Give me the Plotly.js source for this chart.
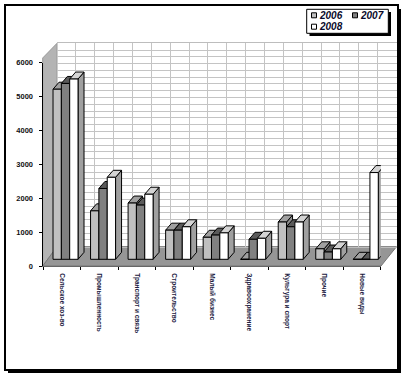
<!DOCTYPE html>
<html><head><meta charset="utf-8">
<script src="https://cdn.plot.ly/plotly-3.0.1.min.js"></script>
<style>html,body{margin:0;padding:0;background:#fff;}#chart{width:407px;height:378px;}</style>
</head><body><div id="chart"></div>
<script>
// ---- data ----
const categories = ['Сельское хоз-во','Промышленность','Транспорт и связь','Строительство','Малый бизнес','Здравоохранение','Культура и спорт','Прочие','Новые виды'];
const seriesNames = ['2006','2007','2008'];
const values2006 = [5020, 1430, 1660, 860, 650, 0, 1100, 310, 0];
const values2007 = [5190, 2090, 1600, 860, 715, 590, 960, 215, 0];
const values2008 = [5320, 2420, 1920, 960, 780, 620, 1100, 310, 2560];
const valueTicks = [0, 1000, 2000, 3000, 4000, 5000, 6000];

// ---- geometry / style ----
const W = 407, H = 378, M = {l: 43, r: 10, t: 40, b: 112};
const PW = W - M.l - M.r, PH = H - M.t - M.b;
const fx = p => (p - M.l) / PW;
const fy = p => (H - M.b - p) / PH;
const AX0 = 43, AX1 = 380.8, Y0 = 266, YTOP = 62.7;
const pxPerUnit = (Y0 - YTOP) / 6000;
const pxPerCat = (AX1 - AX0) / 9;
const BASE = 6.7 / pxPerUnit;
const DX = 6 / pxPerCat, DY = 7 / pxPerUnit;
const BW = 8.33 / pxPerCat;
const SHIFT = 0.1;
const faceColors = [
  {front: '#c0c0c0', top: '#a0a0a0', side: '#8c8c8c'},
  {front: '#808080', top: '#5a5a5a', side: '#505050'},
  {front: '#ffffff', top: '#d4d4d4', side: '#a0a0a0'}
];
const allValues = [values2006, values2007, values2008];

function add(o, xs, ys) { o.x.push(...xs, null); o.y.push(...ys, null); }
// back wall subplot holder (no marks)
const traces = [{type: 'scatter', mode: 'lines', x: [], y: [], xaxis: 'x', yaxis: 'y', showlegend: false, hoverinfo: 'skip'}];
allValues.forEach((vals, s) => {
  const fr = {x: [], y: []}, tp = {x: [], y: []}, sd = {x: [], y: []};
  vals.forEach((v, i) => {
    const x0 = i + SHIFT + (s - 1.5) * BW, x1 = x0 + BW, b = BASE, t = BASE + v;
    add(sd, [x1, x1 + DX, x1 + DX, x1, x1], [b, b + DY, t + DY, t, b]);
    add(tp, [x0, x1, x1 + DX, x0 + DX, x0], [t, t, t + DY, t + DY, t]);
    add(fr, [x0, x1, x1, x0, x0], [b, b, t, t, b]);
  });
  [['side', sd], ['top', tp], ['front', fr]].forEach(([k, o]) => {
    traces.push({type: 'scatter', mode: 'lines', x: o.x, y: o.y, xaxis: 'x2', yaxis: 'y2',
      fill: 'toself', fillcolor: faceColors[s][k], line: {color: '#000', width: 1},
      name: seriesNames[s], showlegend: false, hoverinfo: 'skip'});
  });
});

const shapes = [
  // outer frame shadow + frame
  {type: 'rect', xref: 'paper', yref: 'paper', x0: fx(8), x1: fx(401), y0: fy(373), y1: fy(9), fillcolor: '#000', line: {width: 0}, layer: 'below'},
  {type: 'rect', xref: 'paper', yref: 'paper', x0: fx(5), x1: fx(398), y0: fy(370), y1: fy(5), fillcolor: '#fff', line: {color: '#000', width: 2}, layer: 'below'},
  // left wall
  {type: 'path', xref: 'paper', yref: 'paper', layer: 'below',
    path: `M${fx(42.7)},${fy(266)} L${fx(42.7)},${fy(58)} L${fx(57)},${fy(43.3)} L${fx(57)},${fy(246.7)} Z`,
    fillcolor: '#b4b4b4', line: {color: '#9a9a9a', width: 1}},
  // floor
  {type: 'path', xref: 'paper', yref: 'paper', layer: 'below',
    path: `M${fx(42.7)},${fy(266)} L${fx(381)},${fy(266)} L${fx(396.5)},${fy(246.7)} L${fx(57)},${fy(246.7)} Z`,
    fillcolor: '#969696', line: {color: '#777', width: 1}},
  // legend shadow + box
  {type: 'rect', xref: 'paper', yref: 'paper', x0: fx(309.5), x1: fx(391), y0: fy(36), y1: fy(12), fillcolor: '#000', line: {width: 0}},
  {type: 'rect', xref: 'paper', yref: 'paper', x0: fx(306.7), x1: fx(388.3), y0: fy(33.3), y1: fy(9.3), fillcolor: '#fff', line: {color: '#000', width: 1}}
];
const legendPos = [[311.5, 15.3], [352.5, 15.3], [311.5, 26.7]];
const annotations = [];
seriesNames.forEach((n, s) => {
  const [lx, ly] = legendPos[s];
  shapes.push({type: 'rect', xref: 'paper', yref: 'paper', x0: fx(lx), x1: fx(lx + 5), y0: fy(ly + 2.5), y1: fy(ly - 2.5),
    fillcolor: faceColors[s].front, line: {color: '#000', width: 1}});
  annotations.push({xref: 'paper', yref: 'paper', x: fx(lx + 6.5), y: fy(ly), xanchor: 'left', yanchor: 'middle',
    text: n, showarrow: false, borderpad: 0,
    font: {family: 'Liberation Sans, Arial', size: 10, weight: 'bold', style: 'italic', color: '#0a0a2a'}});
});

const layout = {
  width: W, height: H, margin: M, showlegend: false,
  paper_bgcolor: '#fff', plot_bgcolor: 'rgba(0,0,0,0)',
  // back wall grid
  xaxis: {domain: [fx(57), fx(396.5)], range: [0, 18], dtick: 1, showgrid: true, gridcolor: '#c4c4c4', gridwidth: 1,
    showticklabels: false, ticks: '', zeroline: false, showline: true, mirror: true, linecolor: '#bdbdbd', anchor: 'y', fixedrange: true},
  yaxis: {domain: [fy(246.7), fy(43.3)], range: [0, 6000], dtick: 200, showgrid: true, gridcolor: '#c4c4c4', gridwidth: 1,
    showticklabels: false, ticks: '', zeroline: false, showline: false, anchor: 'x', fixedrange: true},
  // front axes with bars
  xaxis2: {domain: [0, fx(AX1)], range: [-0.5, 8.5], anchor: 'y2', tickmode: 'array',
    tickvals: categories.map((c, i) => i), ticktext: categories, ticks: '', tickangle: 90, ticklabelstandoff: 5,
    tickfont: {family: 'Liberation Sans, Arial', size: 6.5, weight: 'bold', color: '#202040'},
    minor: {tickmode: 'linear', tick0: -0.5, dtick: 1, ticks: 'outside', ticklen: 3, tickcolor: '#000', tickwidth: 1},
    showgrid: false, zeroline: false, showline: true, linecolor: '#666', linewidth: 1, fixedrange: true},
  yaxis2: {domain: [0, fy(YTOP)], range: [0, 6000], anchor: 'x2', tickmode: 'array', tickvals: valueTicks,
    ticks: 'outside', ticklen: 3, tickcolor: '#000', tickwidth: 1, ticklabelstandoff: 4,
    tickfont: {family: 'Liberation Sans, Arial', size: 7.5, weight: 'bold', color: '#111'},
    showgrid: false, zeroline: false, showline: true, linecolor: '#000', linewidth: 1.5, fixedrange: true},
  shapes: shapes, annotations: annotations
};
Plotly.newPlot('chart', traces, layout, {displayModeBar: false, staticPlot: true});
</script>
</body></html>
